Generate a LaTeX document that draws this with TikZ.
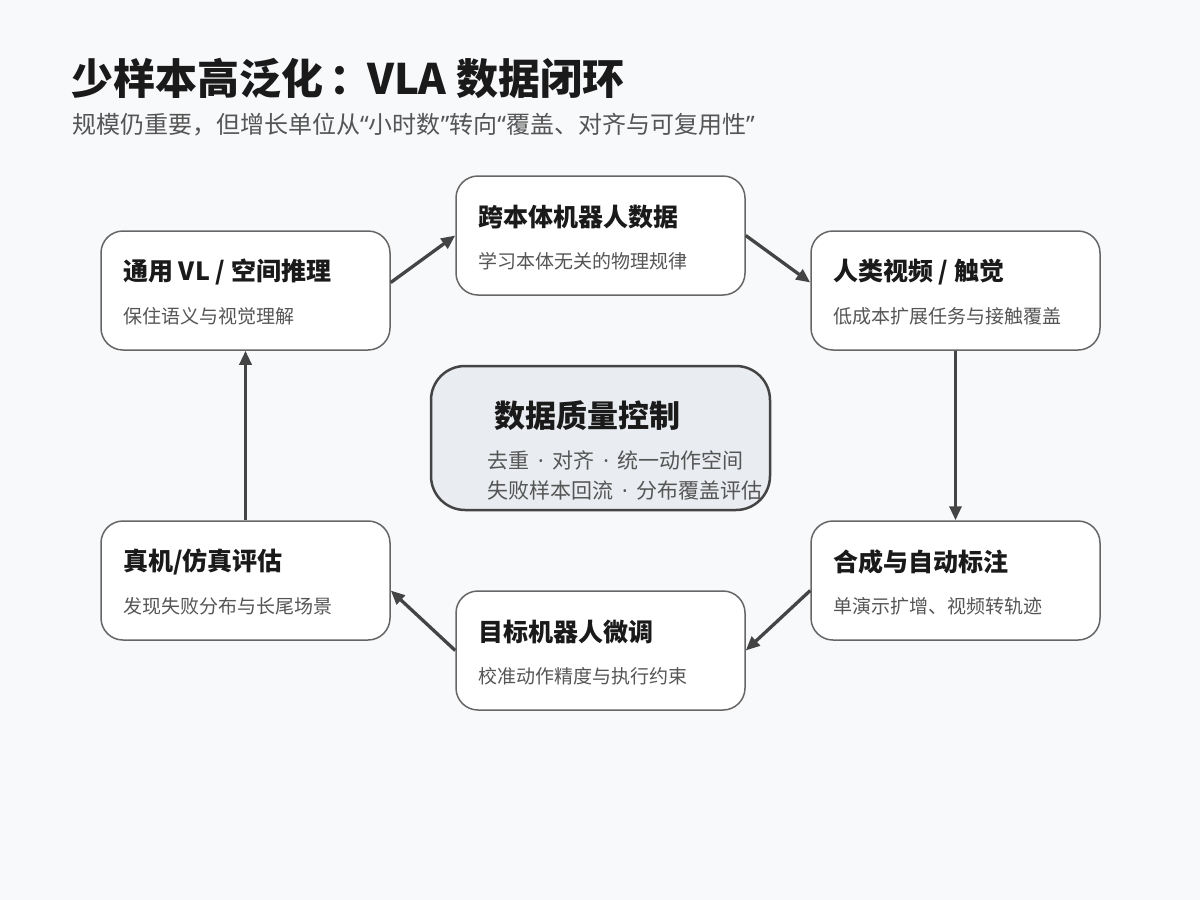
\documentclass[tikz,border=0pt]{standalone}
\usepackage{fontspec}
\setmainfont{Noto Sans CJK SC}
\newfontfamily\latinfont{Noto Sans}
\newcommand{\myLQ}{{\latinfont “}}
\newcommand{\myRQ}{{\latinfont ”}}
\newcommand{\myDot}{{\latinfont\hspace{0.42em}·\hspace{0.42em}}}
\usetikzlibrary{arrows.meta}
\definecolor{bg}{HTML}{F8F9FB}
\definecolor{ink}{HTML}{1A1A1A}
\definecolor{subink}{HTML}{555555}
\definecolor{border}{HTML}{666666}
\definecolor{arrowc}{HTML}{444444}
\definecolor{centerfill}{HTML}{E9ECF0}
\tikzset{
  box/.style={draw=border, line width=1.5pt, fill=white, rounded corners=22pt,
    minimum width=289pt, minimum height=119pt, inner sep=0pt},
  centerbox/.style={draw=arrowc, line width=2.5pt, fill=centerfill, rounded corners=34pt,
    minimum width=339pt, minimum height=144pt, inner sep=0pt},
  ttl/.style={anchor=west, inner sep=0pt, text=ink, font=\fontsize{25}{29}\selectfont\bfseries},
  sub/.style={anchor=west, inner sep=0pt, text=subink, font=\fontsize{19}{23}\selectfont},
  flow/.style={draw=arrowc, line width=3.3pt, -{Triangle[length=14pt,width=12pt]}}
}
\begin{document}
\begin{tikzpicture}[x=1pt,y=-1pt]
\fill[bg] (0,0) rectangle (1200,900);
\useasboundingbox (0,0) rectangle (1200,900);

\node[anchor=west, inner sep=0pt, text=ink, font=\fontsize{42}{48}\selectfont\bfseries] (title) at (71,78) {少样本高泛化\hspace{6pt}：\hspace{-4pt}VLA 数据闭环};
\node[anchor=west, inner sep=0pt, text=subink, font=\fontsize{24}{28}\selectfont] (subtitle) at (72,125) {规模仍重要，但增长单位从\myLQ 小时数\myRQ 转向\myLQ 覆盖、对齐与可复用性\myRQ};

\node[box] (A) at (245.5,290.5) {};
\node[box] (B) at (600.5,235.5) {};
\node[box] (C) at (955.5,290.5) {};
\node[box] (D) at (955.5,580.5) {};
\node[box] (E) at (600.5,650.5) {};
\node[box] (F) at (245.5,580.5) {};
\node[centerbox] (Q) at (600.5,438) {};

\node[ttl] (At) at (123,272) {通用 VL / 空间推理};
\node[sub] (As) at (123,316) {保住语义与视觉理解};
\node[ttl] (Bt) at (478,217) {跨本体机器人数据};
\node[sub] (Bs) at (478,261) {学习本体无关的物理规律};
\node[ttl] (Ct) at (833,272) {人类视频 / 触觉};
\node[sub] (Cs) at (833,316) {低成本扩展任务与接触覆盖};
\node[ttl] (Dt) at (833,562) {合成与自动标注};
\node[sub] (Ds) at (833,606) {单演示扩增、视频转轨迹};
\node[ttl] (Et) at (478,632) {目标机器人微调};
\node[sub] (Es) at (478,676) {校准动作精度与执行约束};
\node[ttl] (Ft) at (123,562) {真机/仿真评估};
\node[sub] (Fs) at (123,606) {发现失败分布与长尾场景};

\node[anchor=west, inner sep=0pt, text=ink, font=\fontsize{31}{35}\selectfont\bfseries] (Qt) at (494,416) {数据质量控制};
\node[anchor=west, inner sep=0pt, text=subink, font=\fontsize{21}{25}\selectfont] (Q1) at (487,460) {去重\myDot 对齐\myDot 统一动作空间};
\node[anchor=west, inner sep=0pt, text=subink, font=\fontsize{21}{25}\selectfont] (Q2) at (487,491) {失败样本回流\myDot 分布覆盖评估};

\draw[flow] ([yshift=8pt]A.east) -- (B.west);
\draw[flow] (B.east) -- ([yshift=8pt]C.west);
\draw[flow] (C.south) -- (D.north);
\draw[flow] ([yshift=-10pt]D.west) -- (E.east);
\draw[flow] (E.west) -- ([yshift=-10pt]F.east);
\draw[flow] (F.north) -- (A.south);
\end{tikzpicture}
\end{document}
